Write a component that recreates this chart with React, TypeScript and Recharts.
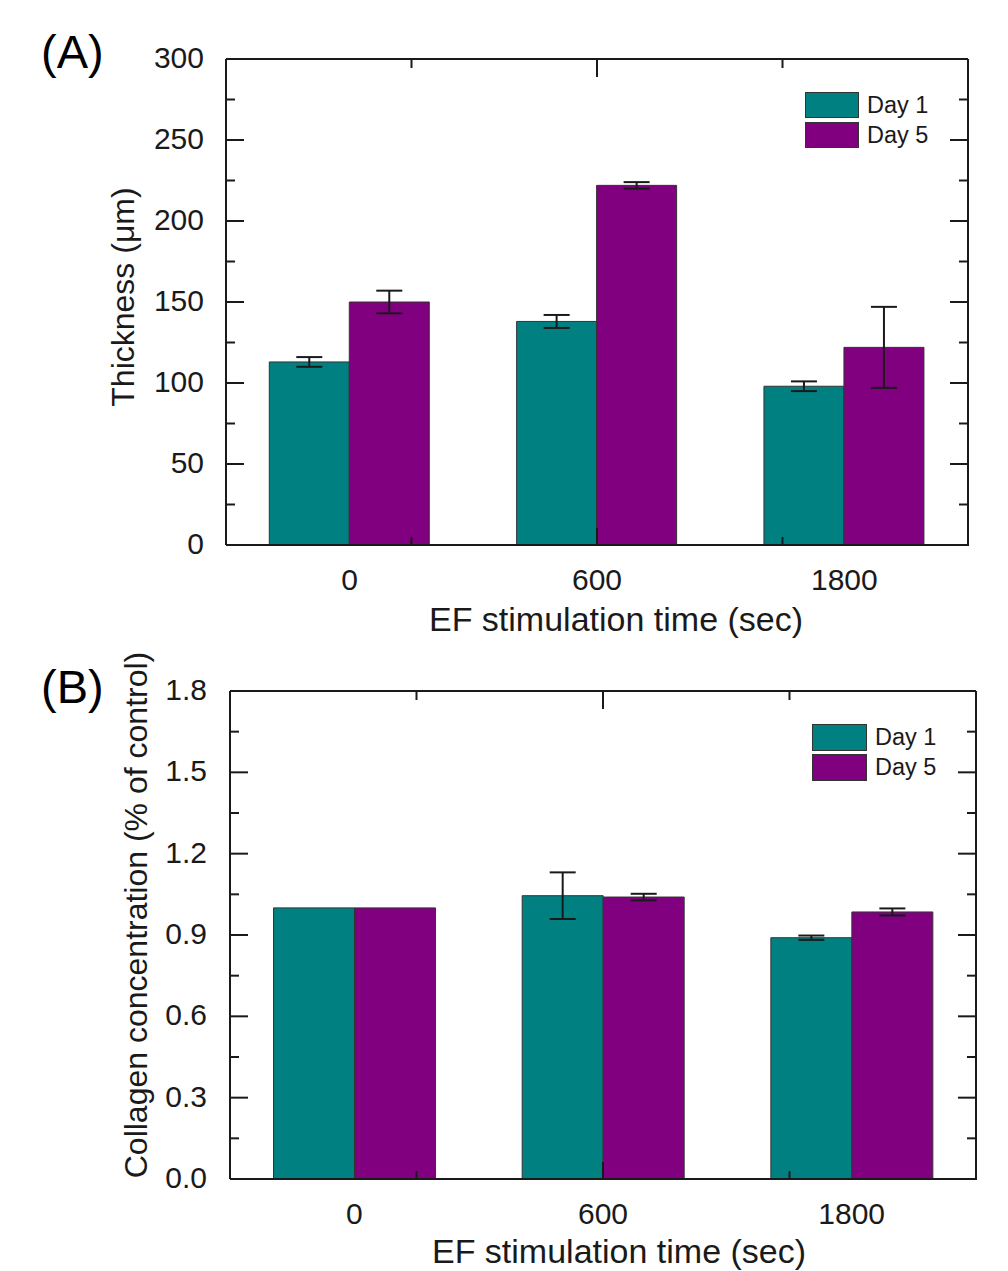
import React from "react";
import { BarChart, Bar, XAxis, YAxis, ErrorBar, Legend, Label } from "recharts";

const categories = ["0", "600", "1800"];

const thicknessDay1 = [113, 138, 98];
const thicknessDay1Err = [3, 4, 3];
const thicknessDay5 = [150, 222, 122];
const thicknessDay5Err = [7, 2, 25];

const collagenDay1 = [1.0, 1.045, 0.89];
const collagenDay1Err = [null, 0.086, 0.008];
const collagenDay5 = [1.0, 1.04, 0.985];
const collagenDay5Err = [null, 0.012, 0.013];

const yTicksA = [0, 25, 50, 75, 100, 125, 150, 175, 200, 225, 250, 275, 300];
const yMajorA = [0, 50, 100, 150, 200, 250, 300];
const yTicksB = [0, 0.15, 0.3, 0.45, 0.6, 0.75, 0.9, 1.05, 1.2, 1.35, 1.5, 1.65, 1.8];
const yMajorB = [0, 0.3, 0.6, 0.9, 1.2, 1.5, 1.8];
// frame tick marks on the x edges: category centres and band edges are majors
const xMarks = [0.5, 1, 1.5, 2, 2.5, 3, 3.5, 4, 4.5, 5, 5.5];
const xMajorMarks = [1, 2, 3, 4, 5];

const TEAL = "#008080";
const PURPLE = "#800080";
const INK = "#1a1a1a";
const FONT = '"Liberation Sans", Arial, sans-serif';

const thicknessRows = categories.map((cat, i) => ({
  cat,
  day1: thicknessDay1[i],
  day1Err: thicknessDay1Err[i],
  day5: thicknessDay5[i],
  day5Err: thicknessDay5Err[i],
}));

const collagenRows = categories.map((cat, i) => ({
  cat,
  day1: collagenDay1[i],
  day1Err: collagenDay1Err[i],
  day5: collagenDay5[i],
  day5Err: collagenDay5Err[i],
}));

const MAJOR = 18;
const MINOR = 9;

function leftTick(major: number[], fmt: (v: number) => string, labelGap: number) {
  return (p: any) => {
    const v = p.payload.value;
    const isMajor = major.includes(v);
    return (
      <g>
        <line x1={p.x} x2={p.x + (isMajor ? MAJOR : MINOR)} y1={p.y} y2={p.y} stroke={INK} strokeWidth={2} />
        {isMajor && (
          <text x={p.x - labelGap} y={p.y + 9} textAnchor="end" fontSize={30} fill={INK} fontFamily={FONT}>
            {fmt(v)}
          </text>
        )}
      </g>
    );
  };
}

function rightTick(major: number[]) {
  return (p: any) => {
    const isMajor = major.includes(p.payload.value);
    return <line x1={p.x} x2={p.x - (isMajor ? MAJOR : MINOR)} y1={p.y} y2={p.y} stroke={INK} strokeWidth={2} />;
  };
}

const bottomMark = (p: any) => {
  const isMajor = xMajorMarks.includes(p.payload.value);
  return <line x1={p.x} x2={p.x} y1={p.y} y2={p.y - (isMajor ? MAJOR : MINOR)} stroke={INK} strokeWidth={2} />;
};

const topMark = (p: any) => {
  const isMajor = xMajorMarks.includes(p.payload.value);
  return <line x1={p.x} x2={p.x} y1={p.y} y2={p.y + (isMajor ? MAJOR : MINOR)} stroke={INK} strokeWidth={2} />;
};

const categoryTick = (p: any) => (
  <text x={p.x} y={p.y + 45} textAnchor="middle" fontSize={30} fill={INK} fontFamily={FONT}>
    {p.payload.value}
  </text>
);

function legendContent(box: { w: number; h: number }) {
  return (props: any) => (
    <div style={{ fontFamily: FONT }}>
      {(props.payload || []).map((e: any, i: number) => (
        <div key={e.value} style={{ display: "flex", alignItems: "center", height: 30 }}>
          <span
            style={{
              display: "inline-block",
              width: box.w,
              height: box.h,
              background: e.color || (i ? PURPLE : TEAL),
              border: "1.5px solid #333",
              boxSizing: "border-box",
            }}
          />
          <span style={{ marginLeft: 8, fontSize: 23.5, color: INK }}>{e.value}</span>
        </div>
      ))}
    </div>
  );
}

type PanelProps = {
  rows: any[];
  height: number;
  margin: { top: number; right: number; bottom: number; left: number };
  domain: [number, number];
  yTicks: number[];
  yMajor: number[];
  fmt: (v: number) => string;
  labelGap: number;
  xTitle: string;
  yTitle: string;
  xTitleDx: number;
  xTitleDy: number;
  yTitleDx: number;
  yTitleDy: number;
  legendTop: number;
  legendLeft: number;
  legendBox: { w: number; h: number };
};

// axes are 1px thick (a 0-sized axis is not drawn), so margins are trimmed by 1px per axis
function Panel(props: PanelProps) {
  const { rows, height, margin, domain, yTicks, yMajor, fmt, labelGap } = props;
  return (
    <BarChart width={1008} height={height} data={rows} margin={margin} barCategoryGap="17.5%" barGap={0}>
      <XAxis
        xAxisId="cat"
        dataKey="cat"
        height={1}
        interval={0}
        tickSize={0}
        tickMargin={0}
        tickLine={false}
        axisLine={{ stroke: INK, strokeWidth: 2 }}
        tick={categoryTick}
      >
        <Label
          content={(p: any) => {
            const vb = p.viewBox;
            return (
              <text
                x={vb.x + vb.width / 2 + props.xTitleDx}
                y={vb.y + props.xTitleDy}
                textAnchor="middle"
                fontSize={34}
                fill={INK}
                fontFamily={FONT}
              >
                {props.xTitle}
              </text>
            );
          }}
        />
      </XAxis>
      <XAxis
        xAxisId="marksBottom"
        type="number"
        domain={[0, 6]}
        ticks={xMarks}
        interval={0}
        allowDataOverflow
        height={1}
        tickSize={0}
        tickMargin={0}
        tickLine={false}
        axisLine={false}
        tick={bottomMark}
      />
      <XAxis
        xAxisId="marksTop"
        orientation="top"
        type="number"
        domain={[0, 6]}
        ticks={xMarks}
        interval={0}
        allowDataOverflow
        height={1}
        tickSize={0}
        tickMargin={0}
        tickLine={false}
        axisLine={{ stroke: INK, strokeWidth: 2 }}
        tick={topMark}
      />
      <YAxis
        yAxisId="l"
        domain={domain}
        ticks={yTicks}
        interval={0}
        allowDataOverflow
        width={1}
        tickSize={0}
        tickMargin={0}
        tickLine={false}
        axisLine={{ stroke: INK, strokeWidth: 2 }}
        tick={leftTick(yMajor, fmt, labelGap)}
      >
        <Label
          content={(p: any) => {
            const vb = p.viewBox;
            const x = vb.x + vb.width + props.yTitleDx;
            const y = vb.y + vb.height / 2 + props.yTitleDy;
            return (
              <text
                x={x}
                y={y}
                transform={`rotate(-90 ${x} ${y})`}
                textAnchor="middle"
                fontSize={32}
                fill={INK}
                fontFamily={FONT}
              >
                {props.yTitle}
              </text>
            );
          }}
        />
      </YAxis>
      <YAxis
        yAxisId="r"
        orientation="right"
        domain={domain}
        ticks={yTicks}
        interval={0}
        allowDataOverflow
        width={1}
        tickSize={0}
        tickMargin={0}
        tickLine={false}
        axisLine={{ stroke: INK, strokeWidth: 2 }}
        tick={rightTick(yMajor)}
      />
      <Legend
        layout="horizontal"
        verticalAlign="middle"
        align="center"
        wrapperStyle={{ top: props.legendTop, left: props.legendLeft, width: 170 }}
        content={legendContent(props.legendBox)}
      />
      <Bar
        xAxisId="cat"
        yAxisId="l"
        dataKey="day1"
        name="Day 1"
        fill={TEAL}
        stroke="#333"
        strokeWidth={1}
        isAnimationActive={false}
      >
        <ErrorBar dataKey="day1Err" width={13} stroke={INK} strokeWidth={2} isAnimationActive={false} />
      </Bar>
      <Bar
        xAxisId="cat"
        yAxisId="l"
        dataKey="day5"
        name="Day 5"
        fill={PURPLE}
        stroke="#333"
        strokeWidth={1}
        isAnimationActive={false}
      >
        <ErrorBar dataKey="day5Err" width={13} stroke={INK} strokeWidth={2} isAnimationActive={false} />
      </Bar>
    </BarChart>
  );
}

const panelLabel: React.CSSProperties = {
  position: "absolute",
  left: 41,
  fontFamily: FONT,
  fontSize: 47,
  lineHeight: "47px",
  color: "#000",
};

export default function App() {
  return (
    <div style={{ position: "absolute", left: 0, top: 0, width: 1008, height: 1271, background: "#fff" }}>
      <div style={{ position: "absolute", left: 0, top: 0 }}>
        <Panel
          rows={thicknessRows}
          height={640}
          margin={{ top: 58, right: 39, bottom: 93, left: 225 }}
          domain={[0, 300]}
          yTicks={yTicksA}
          yMajor={yMajorA}
          fmt={(v) => String(v)}
          labelGap={22}
          xTitle="EF stimulation time (sec)"
          yTitle="Thickness (μm)"
          xTitleDx={19}
          xTitleDy={86}
          yTitleDx={-92}
          yTitleDy={-5}
          legendTop={90}
          legendLeft={805}
          legendBox={{ w: 54, h: 26 }}
        />
      </div>
      <div style={{ position: "absolute", left: 0, top: 640 }}>
        <Panel
          rows={collagenRows}
          height={631}
          margin={{ top: 50, right: 31, bottom: 90, left: 229 }}
          domain={[0, 1.8]}
          yTicks={yTicksB}
          yMajor={yMajorB}
          fmt={(v) => v.toFixed(1)}
          labelGap={23}
          xTitle="EF stimulation time (sec)"
          yTitle="Collagen concentration (% of control)"
          xTitleDx={16}
          xTitleDy={84}
          yTitleDx={-83}
          yTitleDy={-20}
          legendTop={82}
          legendLeft={812}
          legendBox={{ w: 55, h: 27 }}
        />
      </div>
      <div style={{ ...panelLabel, top: 28 }}>(A)</div>
      <div style={{ ...panelLabel, top: 663 }}>(B)</div>
    </div>
  );
}
